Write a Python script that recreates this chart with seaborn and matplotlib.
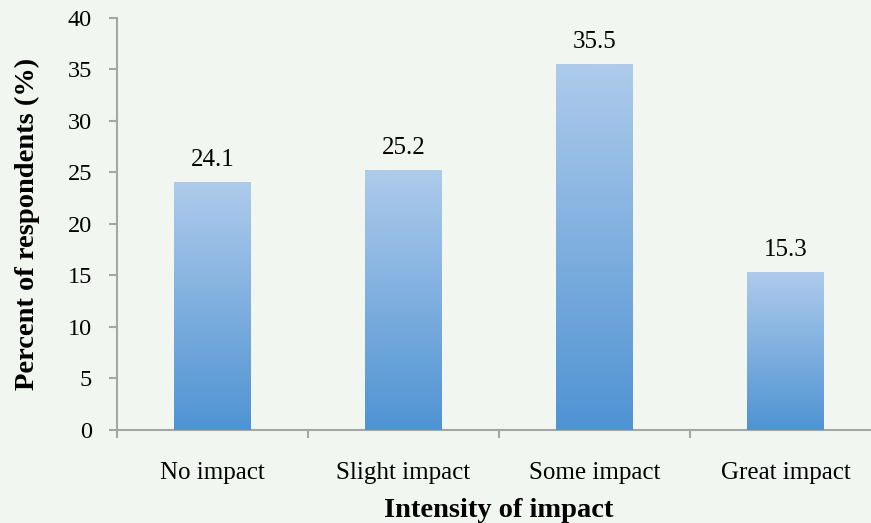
import numpy as np
import pandas as pd
import matplotlib
matplotlib.use("Agg")
import matplotlib.pyplot as plt
from matplotlib.colors import LinearSegmentedColormap
import seaborn as sns

categories = ["No impact", "Slight impact", "Some impact", "Great impact"]
percent = [24.1, 25.2, 35.5, 15.3]
y_ticks = [0, 5, 10, 15, 20, 25, 30, 35, 40]

bg = "#F2F6F0"
spine_color = "#A6A6A6"
grad = LinearSegmentedColormap.from_list("bar_grad", ["#4F93D3", "#AECBEB"])

sns.set_theme(style="white")
plt.rcParams["font.family"] = ["Liberation Serif", "DejaVu Serif"]

df = pd.DataFrame({"impact": categories, "pct": percent})

fig = plt.figure(figsize=(8.71, 5.23), dpi=100, facecolor=bg)
ax = fig.add_axes([117 / 871, 1 - 429.5 / 523, 764 / 871, 411.5 / 523])
ax.set_facecolor(bg)

sns.barplot(data=df, x="impact", y="pct", width=0.4, color="#7FAEE0",
            saturation=1, ax=ax, zorder=2)

# vertical gradient fill inside each bar
ax.set_ylim(0, 40)
ax.set_xlim(-0.5, 3.5)
gradient = np.linspace(0, 1, 256).reshape(-1, 1)
for patch in list(ax.patches):
    x0, y0 = patch.get_x(), patch.get_y()
    w, h = patch.get_width(), patch.get_height()
    im = ax.imshow(gradient, cmap=grad, origin="lower", aspect="auto",
                   extent=[x0, x0 + w, y0, y0 + h], zorder=3)
    im.set_clip_path(patch)
    patch.set_edgecolor("none")
ax.set_xlim(-0.5, 3.5)
ax.set_ylim(0, 40)

# value labels
for i, v in enumerate(percent):
    ax.text(i, v + 1.55, f"{v:.1f}", ha="center", va="baseline",
            fontsize=18, color="black", zorder=4)

# axes styling
for side in ["top", "right"]:
    ax.spines[side].set_visible(False)
for side in ["left", "bottom"]:
    ax.spines[side].set_color(spine_color)
    ax.spines[side].set_linewidth(1.5)

ax.set_yticks(y_ticks)
ax.set_yticklabels([str(t) for t in y_ticks], fontsize=17.5)
ax.tick_params(axis="y", direction="out", length=6, width=1.5,
               color=spine_color, left=True, pad=12, labelcolor="black")

ax.set_xticks(np.arange(-0.5, 4.0, 1.0))
ax.set_xticklabels([])
ax.tick_params(axis="x", which="major", direction="out", length=6, width=1.5,
               color=spine_color, bottom=True)
ax.set_xticks(range(len(categories)), minor=True)
ax.set_xticklabels(categories, minor=True, fontsize=18)
ax.tick_params(axis="x", which="minor", length=0, pad=23.5, labelcolor="black")

ax.set_xlabel("Intensity of impact", fontsize=20.5, fontweight="bold",
              labelpad=10, color="black")
ax.set_ylabel("Percent of respondents (%)", fontsize=20.5, fontweight="bold",
              labelpad=20, color="black")

fig.savefig("out.png", dpi=100, facecolor=bg)
